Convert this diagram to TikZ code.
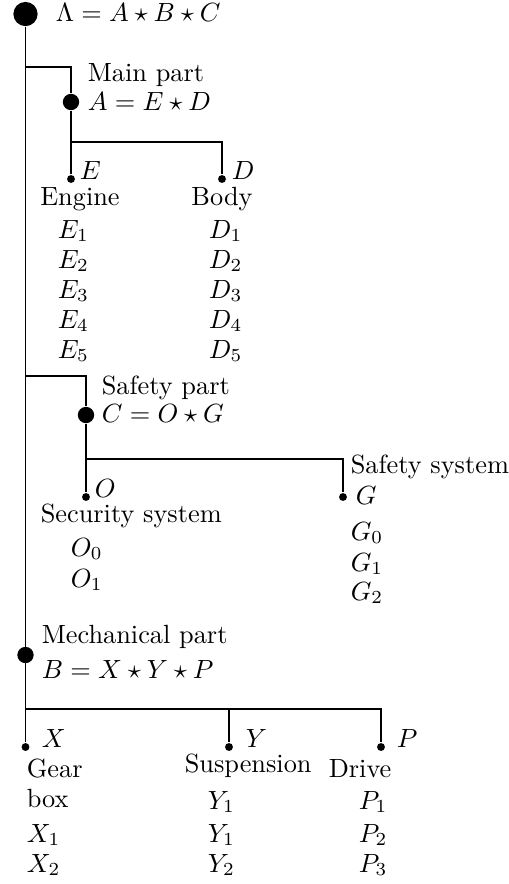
\documentclass[tikz,border=0pt]{standalone}
\usepackage{amsmath,amssymb}
\usepackage{tikz}
\begin{document}
\begin{tikzpicture}[x=0.38pt, y=-0.38pt, line width=0.6pt,
  bigdot/.style={circle, fill, inner sep=0pt, minimum size=9.2pt},
  middot/.style={circle, fill, inner sep=0pt, minimum size=6.2pt},
  smalldot/.style={circle, fill, inner sep=0pt, minimum size=3pt},
  txt/.style={anchor=base west, inner sep=0pt}]
%
\useasboundingbox (0,0) rectangle (509,884);
%
% dots
\node (R) [bigdot] at (25.5,14) {};
\node (A) [middot] at (71,102) {};
\node (E) [smalldot] at (71,179) {};
\node (D) [smalldot] at (222,179) {};
\node (C) [middot] at (86,415) {};
\node (O) [smalldot] at (86,497) {};
\node (G) [smalldot] at (343,497) {};
\node (B) [middot] at (25.5,655) {};
\node (X) [smalldot] at (25.5,747) {};
\node (Y) [smalldot] at (229,747) {};
\node (P) [smalldot] at (381,747) {};
%
\coordinate (J1) at (25.5,67);
\coordinate (J2) at (25.5,376);
\coordinate (J3) at (25.5,709);
\coordinate (K1) at (71,142);
\coordinate (K2) at (86,459);
%
% tree
\draw (R) -- (X);
\draw (J1) -| (A);
\draw (A) -- (E);
\draw (K1) -| (D);
\draw (J2) -| (C);
\draw (C) -- (O);
\draw (K2) -| (G);
\draw (J3) -| (P);
\draw [line width=1pt] (Y |- J3) -- (Y);
%
% labels
\node (LR) [txt] at (55,21) {$\Lambda = A \star B \star C$};
\node (LA1) [txt] at (87,81) {Main part};
\node (LA2) [txt] at (87,110) {$A = E \star D$};
\node (LE) [txt] at (79,179) {$E$};
\node (LD) [txt] at (231,179) {$D$};
\node (NE) [anchor=base, inner sep=0pt] at (80,205) {Engine};
\node (ND) [anchor=base, inner sep=0pt] at (222,205) {Body};
\node (E1) [txt] at (57,238) {$E_1$};
\node (E2) [txt] at (57,268) {$E_2$};
\node (E3) [txt] at (57,298) {$E_3$};
\node (E4) [txt] at (57,328) {$E_4$};
\node (E5) [txt] at (57,358) {$E_5$};
\node (D1) [txt] at (208,238) {$D_1$};
\node (D2) [txt] at (208,268) {$D_2$};
\node (D3) [txt] at (208,298) {$D_3$};
\node (D4) [txt] at (208,328) {$D_4$};
\node (D5) [txt] at (208,358) {$D_5$};
%
\node (LC1) [txt] at (101,394) {Safety part};
\node (LC2) [txt] at (101,422) {$C = O \star G$};
\node (LO) [txt] at (94,497) {$O$};
\node (NG) [txt] at (350,473) {Safety system};
\node (LG) [txt] at (355,504) {$G$};
\node (NO) [txt] at (40,522) {Security system};
\node (O0) [txt] at (70,556) {$O_0$};
\node (O1) [txt] at (70,587) {$O_1$};
\node (G0) [txt] at (350,540) {$G_0$};
\node (G1) [txt] at (350,571) {$G_1$};
\node (G2) [txt] at (350,600) {$G_2$};
%
\node (LB1) [txt] at (41,643) {Mechanical part};
\node (LB2) [txt] at (41,678) {$B = X \star Y \star P$};
\node (LX) [txt] at (41,747) {$X$};
\node (LY) [txt] at (245,747) {$Y$};
\node (LP) [txt] at (396,747) {$P$};
\node (NX1) [txt] at (26,777) {Gear};
\node (NX2) [txt] at (26,807) {box};
\node (NY) [txt] at (184,772) {Suspension};
\node (NP) [txt] at (328,777) {Drive};
\node (X1) [txt] at (26,842) {$X_1$};
\node (X2) [txt] at (26,872) {$X_2$};
\node (Y1) [txt] at (207,809) {$Y_1$};
\node (Y1b) [txt] at (207,842) {$Y_1$};
\node (Y2) [txt] at (207,872) {$Y_2$};
\node (P1) [txt] at (358,809) {$P_1$};
\node (P2) [txt] at (358,842) {$P_2$};
\node (P3) [txt] at (358,872) {$P_3$};
\end{tikzpicture}
\end{document}
